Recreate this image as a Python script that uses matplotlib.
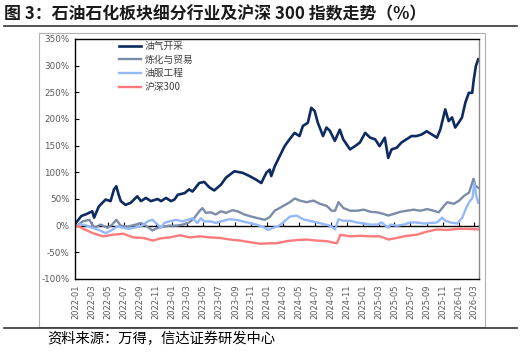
import pandas as pd
import matplotlib
matplotlib.use('Agg')
import matplotlib.pyplot as plt
from matplotlib.patches import Rectangle
from matplotlib.lines import Line2D

CJK = ['Noto Sans CJK SC', 'DejaVu Sans']

# 油气开采
oil_dates = ['2022-01-04','2022-01-20','2022-02-10','2022-03-03','2022-03-10','2022-03-28','2022-04-23',
             '2022-05-12','2022-05-25','2022-06-03','2022-06-10','2022-06-20','2022-07-08','2022-07-28',
             '2022-08-22','2022-09-05','2022-09-24','2022-10-13','2022-11-08','2022-11-21','2022-12-10',
             '2022-12-29','2023-01-11','2023-01-24','2023-02-19','2023-03-08','2023-03-21','2023-04-16',
             '2023-05-05','2023-05-24','2023-06-12','2023-07-08','2023-07-27','2023-08-28','2023-09-29',
             '2023-10-25','2023-11-20','2023-12-09','2023-12-28','2024-01-10','2024-01-16','2024-01-29',
             '2024-02-17','2024-03-07','2024-03-26','2024-04-14','2024-05-03','2024-05-16','2024-06-04',
             '2024-06-17','2024-06-30','2024-07-12','2024-08-01','2024-08-14','2024-08-27','2024-09-15',
             '2024-10-04','2024-10-17','2024-11-12','2024-12-01','2024-12-20','2025-01-09','2025-01-28',
             '2025-02-16','2025-03-05','2025-03-25','2025-04-07','2025-04-20','2025-05-09','2025-05-28',
             '2025-06-16','2025-07-05','2025-07-24','2025-08-13','2025-09-01','2025-09-21','2025-10-10',
             '2025-10-23','2025-11-11','2025-11-24','2025-12-07','2025-12-19','2026-01-01','2026-01-14',
             '2026-01-27','2026-02-09','2026-02-22','2026-02-28','2026-03-08','2026-03-17']
oil_vals = [8, 18, 22, 27, 15, 36, 49,
            46, 68, 74, 61, 46, 39, 43,
            55, 46, 52, 46, 50, 46, 52,
            46, 49, 58, 61, 68, 64, 80,
            82, 72, 66, 77, 90, 102, 99,
            93, 86, 80, 99, 105, 93, 111,
            130, 149, 162, 174, 168, 187, 193,
            221, 215, 193, 168, 184, 178, 159,
            180, 162, 143, 149, 156, 174, 165,
            162, 149, 165, 127, 143, 146, 156,
            162, 168, 168, 171, 177, 171, 165,
            180, 218, 196, 203, 184, 193, 203,
            231, 249, 249, 274, 299, 312]

# 炼化与贸易
ref_dates = ['2022-01-04','2022-01-25','2022-02-20','2022-03-10','2022-04-04','2022-04-30','2022-05-18',
             '2022-06-03','2022-06-20','2022-07-15','2022-08-16','2022-09-05','2022-09-24','2022-10-19',
             '2022-11-08','2022-11-27','2022-12-22','2023-01-18','2023-02-12','2023-03-08','2023-03-27',
             '2023-04-16','2023-04-28','2023-05-11','2023-05-30','2023-06-18','2023-07-08','2023-07-27',
             '2023-08-21','2023-09-09','2023-10-05','2023-11-01','2023-11-26','2023-12-22','2024-01-10',
             '2024-01-29','2024-03-02','2024-03-27','2024-04-15','2024-05-04','2024-05-30','2024-06-25',
             '2024-07-20','2024-08-15','2024-09-03','2024-09-16','2024-09-29','2024-10-18','2024-11-13',
             '2024-12-08','2025-01-04','2025-01-29','2025-02-24','2025-03-20','2025-04-07','2025-04-28',
             '2025-05-23','2025-06-17','2025-07-13','2025-08-08','2025-09-03','2025-09-28','2025-10-17',
             '2025-11-06','2025-11-19','2025-12-14','2026-01-03','2026-01-22','2026-02-10','2026-02-27',
             '2026-03-06','2026-03-17']
ref_vals = [0, 8, 11, -4, 2, -4, 2,
            11, 0, -2, 2, 5, 0, -9,
            -4, -2, 0, 0, 2, 6, 14,
            27, 33, 24, 25, 21, 27, 24,
            29, 27, 21, 17, 14, 11, 16,
            28, 37, 44, 51, 47, 44, 47,
            41, 37, 28, 28, 44, 33, 28,
            28, 30, 26, 25, 22, 19, 22,
            26, 28, 30, 28, 31, 28, 25,
            37, 44, 41, 47, 56, 62, 88,
            75, 71]

# 油服工程
svc_dates = ['2022-01-04','2022-01-18','2022-02-10','2022-03-03','2022-03-28','2022-04-23','2022-05-18',
             '2022-06-07','2022-06-25','2022-07-22','2022-08-16','2022-09-11','2022-09-30','2022-10-19',
             '2022-11-01','2022-11-21','2022-12-03','2022-12-22','2023-01-18','2023-02-12','2023-03-01',
             '2023-03-21','2023-04-09','2023-04-22','2023-05-05','2023-05-30','2023-06-18','2023-07-08',
             '2023-08-09','2023-09-04','2023-09-29','2023-10-25','2023-11-20','2023-12-15','2024-01-04',
             '2024-01-23','2024-02-11','2024-03-02','2024-03-27','2024-04-22','2024-05-17','2024-06-12',
             '2024-07-08','2024-08-03','2024-08-28','2024-09-16','2024-09-29','2024-10-18','2024-11-13',
             '2024-12-08','2025-01-04','2025-01-29','2025-02-24','2025-03-13','2025-04-07','2025-04-15',
             '2025-05-10','2025-06-05','2025-06-30','2025-07-25','2025-08-20','2025-09-15','2025-10-11',
             '2025-10-30','2025-11-12','2025-12-01','2025-12-27','2026-01-15','2026-01-28','2026-02-10',
             '2026-02-23','2026-03-02','2026-03-10','2026-03-17']
svc_vals = [0, 3, 0, -4, -8, -14, -8,
            -1, -4, -6, -3, 0, 8, 11,
            5, -4, 5, 8, 11, 8, 11,
            14, 5, 14, 8, 8, 5, 8,
            12, 11, 8, 5, 2, -2, -8,
            -4, -1, 6, 17, 19, 12, 9,
            6, 3, 0, -7, 12, 9, 9,
            6, 4, 2, 2, 6, -4, 2,
            0, 2, 6, 6, 4, 5, 6,
            15, 9, 6, 4, 15, 31, 44,
            52, 80, 55, 43]

# 沪深300
hs_dates = ['2022-01-04','2022-01-28','2022-03-05','2022-04-13','2022-05-21','2022-06-29','2022-08-06',
            '2022-09-14','2022-10-22','2022-11-17','2022-12-25','2023-02-02','2023-03-11','2023-04-19',
            '2023-05-27','2023-07-04','2023-08-12','2023-09-20','2023-10-28','2023-12-05','2024-01-13',
            '2024-02-06','2024-03-15','2024-04-22','2024-05-30','2024-07-08','2024-08-15','2024-09-11',
            '2024-09-23','2024-10-06','2024-11-13','2024-12-21','2025-01-29','2025-03-07','2025-04-08',
            '2025-05-10','2025-06-17','2025-07-25','2025-09-03','2025-10-11','2025-11-19','2025-12-27',
            '2026-02-04','2026-03-17']
hs_vals = [0, -6, -14, -20, -17, -15, -22,
           -23, -28, -24, -22, -18, -22, -20,
           -22, -23, -26, -28, -31, -34, -33,
           -33, -29, -27, -26, -28, -29, -32,
           -33, -17, -20, -19, -20, -20, -26,
           -23, -19, -17, -11, -7, -8, -6,
           -6, -7]

series = [('油气开采', oil_dates, oil_vals, '#0d2b61', 1.9),
          ('炼化与贸易', ref_dates, ref_vals, '#7b8baa', 1.7),
          ('油服工程', svc_dates, svc_vals, '#93b9fb', 1.7),
          ('沪深300', hs_dates, hs_vals, '#ff7b7b', 1.7)]

xtick_labels = ['2022-01','2022-03','2022-05','2022-07','2022-09','2022-11',
                '2023-01','2023-03','2023-05','2023-07','2023-09','2023-11',
                '2024-01','2024-03','2024-05','2024-07','2024-09','2024-11',
                '2025-01','2025-03','2025-05','2025-07','2025-09','2025-11',
                '2026-01','2026-03']
yticks = [-100, -50, 0, 50, 100, 150, 200, 250, 300, 350]

W, H = 522, 352
fig = plt.figure(figsize=(W/100, H/100), dpi=100)

def fx(px): return px / W
def fy(py): return 1 - py / H

ax = fig.add_axes([fx(75), fy(279), fx(479) - fx(75), fy(39) - fy(279)])

for name, d, v, c, lw in series:
    ax.plot(pd.to_datetime(d), v, color=c, lw=lw, label=name, solid_joinstyle='round')

ax.set_ylim(-100, 350)
ax.set_xlim(pd.Timestamp('2021-12-27'), pd.Timestamp('2026-03-20'))
ax.set_yticks(yticks)
ax.set_yticklabels([f'{t}%' for t in yticks], fontsize=6.3, color='#595959', family='DejaVu Sans')
ax.tick_params(axis='y', direction='in', length=3, width=0.8, pad=4)

xt = pd.to_datetime([s + '-01' for s in xtick_labels])
ax.set_xticks(xt)
ax.set_xticklabels(xtick_labels, rotation=90, fontsize=6, color='#595959', family='DejaVu Sans')
ax.tick_params(axis='x', length=0, pad=4)

# zero line with tick marks
ax.axhline(0, color='black', lw=1, zorder=1)
sec = ax.secondary_xaxis(100 / 450)
sec.set_xticks(xt)
sec.set_xticklabels([])
sec.tick_params(axis='x', direction='in', length=3, width=0.8, color='black')
sec.spines['bottom'].set_visible(False)
sec.spines['top'].set_visible(False)

for s in ['left', 'bottom', 'top']:
    ax.spines[s].set_color('black')
    ax.spines[s].set_linewidth(1)
ax.spines['right'].set_color('#888888')
ax.spines['right'].set_linewidth(1)

leg = ax.legend(loc='upper left', bbox_to_anchor=((119 - 75) / 404, (279 - 41) / 240),
                frameon=False, prop={'family': CJK, 'size': 7}, borderpad=0, borderaxespad=0,
                handlelength=2.3, handletextpad=0.35, labelspacing=0.38)
for t in leg.get_texts():
    t.set_color('#404040')

# outer gray frame
fig.patches.append(Rectangle((fx(39), fy(327)), fx(485) - fx(39), fy(33) - fy(327),
                             transform=fig.transFigure, fill=False, edgecolor='#b0b0b0', lw=0.8))

# title and rules
fig.text(fx(4), fy(14), '图 3：石油石化板块细分行业及沪深 300 指数走势（%）', family=CJK,
         fontsize=12.2, fontweight='bold', color='#1a1a1a', va='center', ha='left')
fig.add_artist(Line2D([fx(4), fx(517)], [fy(26), fy(26)], color='#333333', lw=1.2))
fig.add_artist(Line2D([fx(4), fx(517)], [fy(327.5), fy(327.5)], color='#333333', lw=1.2))
fig.text(fx(47), fy(339), '资料来源：万得，信达证券研发中心', family=CJK,
         fontsize=10.3, color='black', va='center', ha='left')

fig.savefig('out.png', dpi=100)
